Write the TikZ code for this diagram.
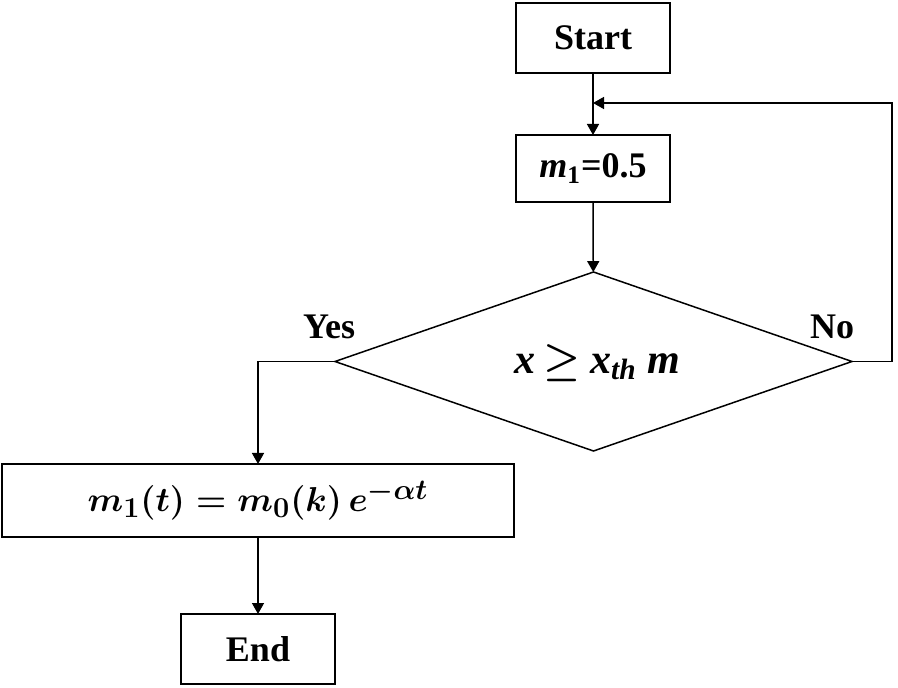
\documentclass[tikz,border=0pt]{standalone}
\usepackage{fontspec}
\setmainfont{Liberation Serif}
\usetikzlibrary{shapes.geometric,arrows.meta}

\begin{document}
\begin{tikzpicture}[x=0.5pt,y=-0.5pt,
	box/.style={draw,line width=0.75pt,inner sep=0pt,outer sep=0pt,font=\fontsize{18}{20}\selectfont\bfseries},
	decision/.style={draw,shape=diamond,line width=0.75pt,inner sep=0pt,outer sep=0pt,
		minimum width=258.5pt,minimum height=89.5pt},
	arr/.style={line width=0.75pt,-{Triangle[length=5.5pt,width=6pt]}},
	lbl/.style={font=\fontsize{18}{20}\selectfont\bfseries}]

	\useasboundingbox (0,0) rectangle (898,688);

	\node[box,minimum width=77pt,minimum height=35pt] (start) at (593,38) {Start};
	\node[box,minimum width=77pt,minimum height=33.5pt] (init) at (593,168.5) {\textit{m}\textsubscript{1}=0.5};
	\node[decision] (cond) at (593.5,361.5) {};
	\node[font=\fontsize{21}{23}\selectfont\bfseries\itshape] (condtxt) at (597,363) {x\kern4pt{\boldmath$\geq$}\kern5pt x\textsubscript{th} m};
	\node[box,font=\fontsize{19}{21}\selectfont\boldmath,minimum width=256pt,minimum height=36.5pt] (decay) at (258,500.5) {$m_1(t) = m_0(k)\,e^{-\alpha t}$};
	\node[box,minimum width=77pt,minimum height=35pt] (stop) at (258,649) {End};

	\node[lbl] (yes) at (329,327) {Yes};
	\node[lbl] (no) at (832,327) {No};

	\coordinate (back) at (892,103);
	\coordinate (join) at (593,103);

	\draw[arr] (start) -- (init);
	\draw[arr] (init) -- (cond);
	\draw[arr] (cond.west) -| (decay.north);
	\draw[arr] (decay) -- (stop);
	\draw[arr] (cond.east) -| (back) -- (join);

\end{tikzpicture}
\end{document}
